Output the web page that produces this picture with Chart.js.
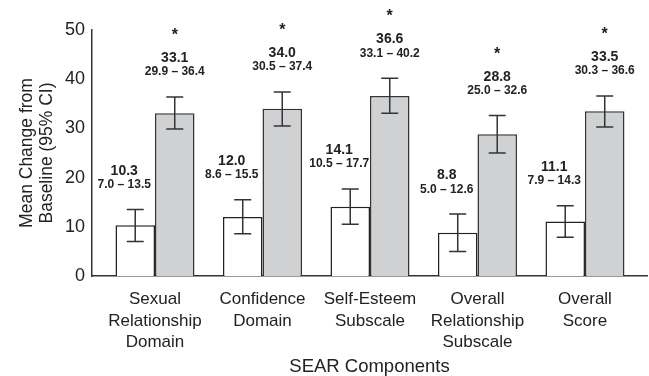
<!DOCTYPE html>
<html>
<head>
<meta charset="utf-8">
<script src="https://cdn.jsdelivr.net/npm/chart.js@4"></script>
<style>
    html, body { margin: 0; padding: 0; background: #fff; }
    #wrap { width: 649px; height: 376px; }
</style>
</head>
<body>
<div id="wrap"><canvas id="sear-chart"></canvas></div>
<script>
var categories = [
    ["Sexual", "Relationship", "Domain"],
    ["Confidence", "Domain"],
    ["Self-Esteem", "Subscale"],
    ["Overall", "Relationship", "Subscale"],
    ["Overall", "Score"]
];
var placeboMean = [10.3, 12.0, 14.1, 8.8, 11.1];
var placeboLow = [7.0, 8.6, 10.5, 5.0, 7.9];
var placeboHigh = [13.5, 15.5, 17.7, 12.6, 14.3];
var treatMean = [33.1, 34.0, 36.6, 28.8, 33.5];
var treatLow = [29.9, 30.5, 33.1, 25.0, 30.3];
var treatHigh = [36.4, 37.4, 40.2, 32.6, 36.6];
var yTicks = [0, 10, 20, 30, 40, 50];

var FONT = "'Liberation Sans', Arial, Helvetica, sans-serif";

function points(values) {
    return values.map(function (v, i) { return { x: i, y: v }; });
}

// error bars, value + CI text and asterisks
var ciLabels = {
    id: "ciLabels",
    afterDatasetsDraw: function (chart) {
        var ctx = chart.ctx;
        var yScale = chart.scales.y;
        var sets = [
            { mean: placeboMean, low: placeboLow, high: placeboHigh, shift: -11, star: false },
            { mean: treatMean, low: treatLow, high: treatHigh, shift: 0, star: true }
        ];
        sets.forEach(function (s, i) {
            chart.getDatasetMeta(i).data.forEach(function (bar, j) {
                var cx = bar.x;
                var top = yScale.getPixelForValue(s.high[j]);
                var bot = yScale.getPixelForValue(s.low[j]);
                ctx.save();
                ctx.strokeStyle = "#333";
                ctx.lineWidth = 1.5;
                ctx.beginPath();
                ctx.moveTo(cx, top); ctx.lineTo(cx, bot);
                ctx.moveTo(cx - 8.5, top); ctx.lineTo(cx + 8.5, top);
                ctx.moveTo(cx - 8.5, bot); ctx.lineTo(cx + 8.5, bot);
                ctx.stroke();

                ctx.fillStyle = "#222";
                ctx.textAlign = "center";
                ctx.textBaseline = "alphabetic";
                ctx.font = "bold 14px " + FONT;
                ctx.fillText(s.mean[j].toFixed(1), cx + s.shift, top - 35);
                ctx.font = "bold 12px " + FONT;
                ctx.fillText(s.low[j].toFixed(1) + " \u2013 " + s.high[j].toFixed(1), cx + s.shift, top - 21.5);
                if (s.star) {
                    ctx.font = "bold 16px " + FONT;
                    ctx.fillText("*", cx, top - 57);
                }
                ctx.restore();
            });
        });
    }
};

var ctx = document.getElementById("sear-chart").getContext("2d");
var chart = new Chart(ctx, {
    type: "bar",
    data: {
        datasets: [
            {
                label: "Placebo",
                data: points(placeboMean),
                backgroundColor: "#ffffff",
                borderColor: "#222",
                borderWidth: 1.5,
                categoryPercentage: 0.735,
                barPercentage: 1.0
            },
            {
                label: "Treatment",
                data: points(treatMean),
                backgroundColor: "#d0d1d3",
                borderColor: "#333",
                borderWidth: 1.5,
                categoryPercentage: 0.735,
                barPercentage: 1.0
            }
        ]
    },
    options: {
        responsive: true,
        maintainAspectRatio: false,
        animation: false,
        layout: { padding: { top: 30, right: 2, left: 0, bottom: 0 } },
        plugins: {
            legend: { display: false },
            tooltip: { enabled: false }
        },
        scales: {
            x: {
                type: "linear",
                offset: false,
                min: -0.586,
                max: 4.577,
                grid: { display: false, drawTicks: false },
                border: { display: true, color: "#333", width: 1.5 },
                afterBuildTicks: function (scale) {
                    scale.ticks = categories.map(function (c, i) { return { value: i }; });
                },
                afterFit: function (scale) { scale.height = 100; },
                ticks: {
                    autoSkip: false,
                    maxRotation: 0,
                    padding: 13,
                    color: "#222",
                    font: { family: FONT, size: 17, lineHeight: 1.25 },
                    callback: function (value) { return categories[value]; }
                },
                title: {
                    display: true,
                    text: "SEAR Components",
                    color: "#222",
                    padding: 0,
                    font: { family: FONT, size: 18.5, lineHeight: 1.0 }
                }
            },
            y: {
                min: 0,
                max: 50,
                grid: { display: false, drawTicks: false },
                border: { display: true, color: "#333", width: 1.5 },
                afterBuildTicks: function (scale) {
                    scale.ticks = yTicks.map(function (v) { return { value: v }; });
                },
                afterFit: function (scale) { scale.width = 92; },
                ticks: {
                    padding: 7,
                    color: "#222",
                    font: { family: FONT, size: 18 }
                },
                title: {
                    display: true,
                    text: ["Mean Change from", "Baseline (95% CI)"],
                    color: "#222",
                    padding: { top: 17, bottom: 0 },
                    font: { family: FONT, size: 17.5, lineHeight: 1.15 }
                }
            }
        }
    },
    plugins: [ciLabels]
});
</script>
</body>
</html>
